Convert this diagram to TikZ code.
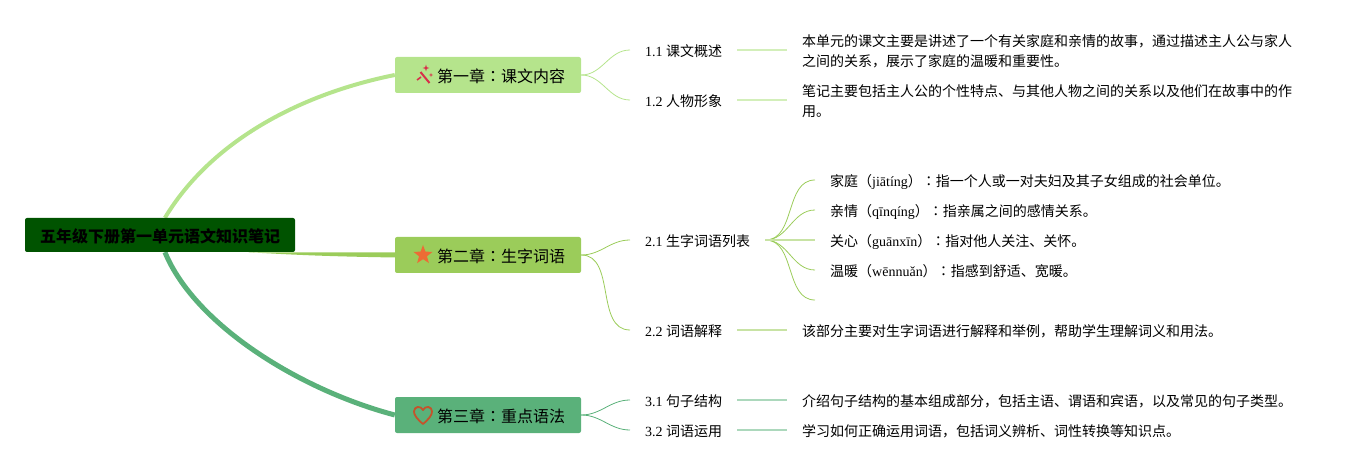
\documentclass[tikz,border=0pt]{standalone}
\usepackage{fontspec}
\setmainfont{Noto Sans CJK SC}
\newfontfamily\lat{Liberation Serif}
\newfontfamily\cjktc{Noto Sans CJK TC}
\usetikzlibrary{shapes.geometric,backgrounds,calc}
\newcommand{\cl}{{\cjktc ：}}
\definecolor{rootgreen}{HTML}{005300}
\definecolor{chapa}{HTML}{B5E48C}
\definecolor{chapb}{HTML}{9BCC5A}
\definecolor{chapc}{HTML}{5AB17A}
\definecolor{iconred}{HTML}{D8304A}
\definecolor{iconorange}{HTML}{EC6C35}
\definecolor{iconbrown}{HTML}{C4532B}

\begin{document}
\begin{tikzpicture}[x=1pt, y=-1pt,
  root/.style  = {fill=rootgreen, rounded corners=2pt, minimum width=270pt, minimum height=34pt, inner sep=0pt,
                  text height=16.5pt, text depth=2pt, font=\fontsize{16}{20}\selectfont\bfseries},
  chap/.style  = {rounded corners=2pt, minimum height=36pt, text width=154pt, align=right, inner xsep=16pt, inner ysep=0pt,
                  text height=16.5pt, text depth=2pt, font=\fontsize{16}{20}\selectfont},
  sub/.style   = {anchor=west, inner xsep=15pt, inner ysep=0pt, font=\fontsize{14}{20}\selectfont},
  leaf/.style  = {sub, text height=14.5pt, text depth=1.7pt},
  note/.style  = {sub, align=left},
  twig/.style  = {line width=0.8pt},
  stem/.style  = {line width=1.8pt}]

\useasboundingbox (0,0) rectangle (1362,470);

% root of the map and the three chapters
\node[root] (root) at (160,235) {五年级下册第一单元语文知识笔记};
\node[chap, fill=chapa] (c1) at (488,75) {第一章\cl 课文内容};
\node[chap, fill=chapb] (c2) at (488,255) {第二章\cl 生字词语};
\node[chap, fill=chapc] (c3) at (488,415) {第三章\cl 重点语法};

% second level
\node[leaf] (c11) at (630,50) {{\lat 1.1 }课文概述};
\node[leaf] (c12) at (630,100) {{\lat 1.2 }人物形象};
\node[leaf] (c21) at (630,240) {{\lat 2.1 }生字词语列表};
\node[leaf] (c22) at (630,330) {{\lat 2.2 }词语解释};
\node[leaf] (c31) at (630,400) {{\lat 3.1 }句子结构};
\node[leaf] (c32) at (630,430) {{\lat 3.2 }词语运用};

% notes behind the second level
\node[note] (n11) at (787,51) {本单元的课文主要是讲述了一个有关家庭和亲情的故事，通过描述主人公与家人\\之间的关系，展示了家庭的温暖和重要性。};
\node[note] (n12) at (787,101) {笔记主要包括主人公的个性特点、与其他人物之间的关系以及他们在故事中的作\\用。};
\node[leaf] (n22) at (787,330) {该部分主要对生字词语进行解释和举例，帮助学生理解词义和用法。};
\node[leaf] (n31) at (787,400) {介绍句子结构的基本组成部分，包括主语、谓语和宾语，以及常见的句子类型。};
\node[leaf] (n32) at (787,430) {学习如何正确运用词语，包括词义辨析、词性转换等知识点。};

% word list
\node[leaf] (c211) at (815,180) {家庭（{\lat jiātíng}）\cl 指一个人或一对夫妇及其子女组成的社会单位。};
\node[leaf] (c212) at (815,210) {亲情（{\lat qīnqíng}）\cl 指亲属之间的感情关系。};
\node[leaf] (c213) at (815,240) {关心（{\lat guānxīn}）\cl 指对他人关注、关怀。};
\node[leaf] (c214) at (815,270) {温暖（{\lat wēnnuǎn}）\cl 指感到舒适、宽暖。};
\coordinate (c215) at (815,300);

% main branches
\begin{scope}[on background layer]
\draw[chapa, line width=4pt] (root.74) .. controls (215,135) and (310,92) .. (c1.west);
\fill[chapb] (root.-11) .. controls +(50,3) and +(-60,-1) .. ($(c2.west)+(0,2.5)$)
  -- ($(c2.west)+(0,-2.5)$) .. controls +(-50,-0.5) and +(50,0.5) .. (root.-11);
\draw[chapc, line width=5pt] (root.-74) .. controls (195,325) and (300,390) .. (c3.west);
\end{scope}

%--------------------------- lines from each chapter to its children
\foreach \value in {1,2}
  \draw[chapa, twig] (c1.east) to[out=0, in=180] (c1\value.west);
\foreach \value in {1,2}
  \draw[chapb, twig] (c2.east) to[out=0, in=180] (c2\value.west);
\foreach \value in {1,2}
  \draw[chapc, twig] (c3.east) to[out=0, in=180] (c3\value.west);
\foreach \value in {1,...,4}
  \draw[chapb, twig] (c21.east) to[out=0, in=180] (c21\value.west);
\draw[chapb, twig] (c21.east) to[out=0, in=180] (c215);

%--------------------------- straight lines to the notes
\draw[chapa!60, stem] (c11) -- (n11.west |- c11);
\draw[chapa!60, stem] (c12) -- (n12.west |- c12);
\draw[chapb!55, stem] (c22) -- (n22);
\draw[chapc!50, stem] (c31) -- (n31);
\draw[chapc!50, stem] (c32) -- (n32);
\draw[chapb!55, stem] (c21.east) -- (c213.west);

% icons
\draw[iconred, line width=2pt] (420.5,72) -- (429.5,83);
\draw[iconred, line width=1.6pt] (417,80) -- (421,77);
\node[star, star points=4, star point ratio=3, fill=iconred, inner sep=0.8pt] (wanda) at (426,68) {};
\node[star, star points=4, star point ratio=3, fill=iconred, inner sep=0.5pt] (wandb) at (431,75) {};
\node[star, star points=5, star point ratio=2.4, fill=iconorange, minimum size=20pt, inner sep=0pt] (starb) at (423,255) {};
\draw[iconbrown, line width=1.8pt, line join=round] (423,424)
  .. controls (417,419) and (414,415) .. (414,411.5)
  .. controls (414,406) and (421,405.5) .. (423,410)
  .. controls (425,405.5) and (432,406) .. (432,411.5)
  .. controls (432,415) and (429,419) .. (423,424) -- cycle;
\end{tikzpicture}
\end{document}
